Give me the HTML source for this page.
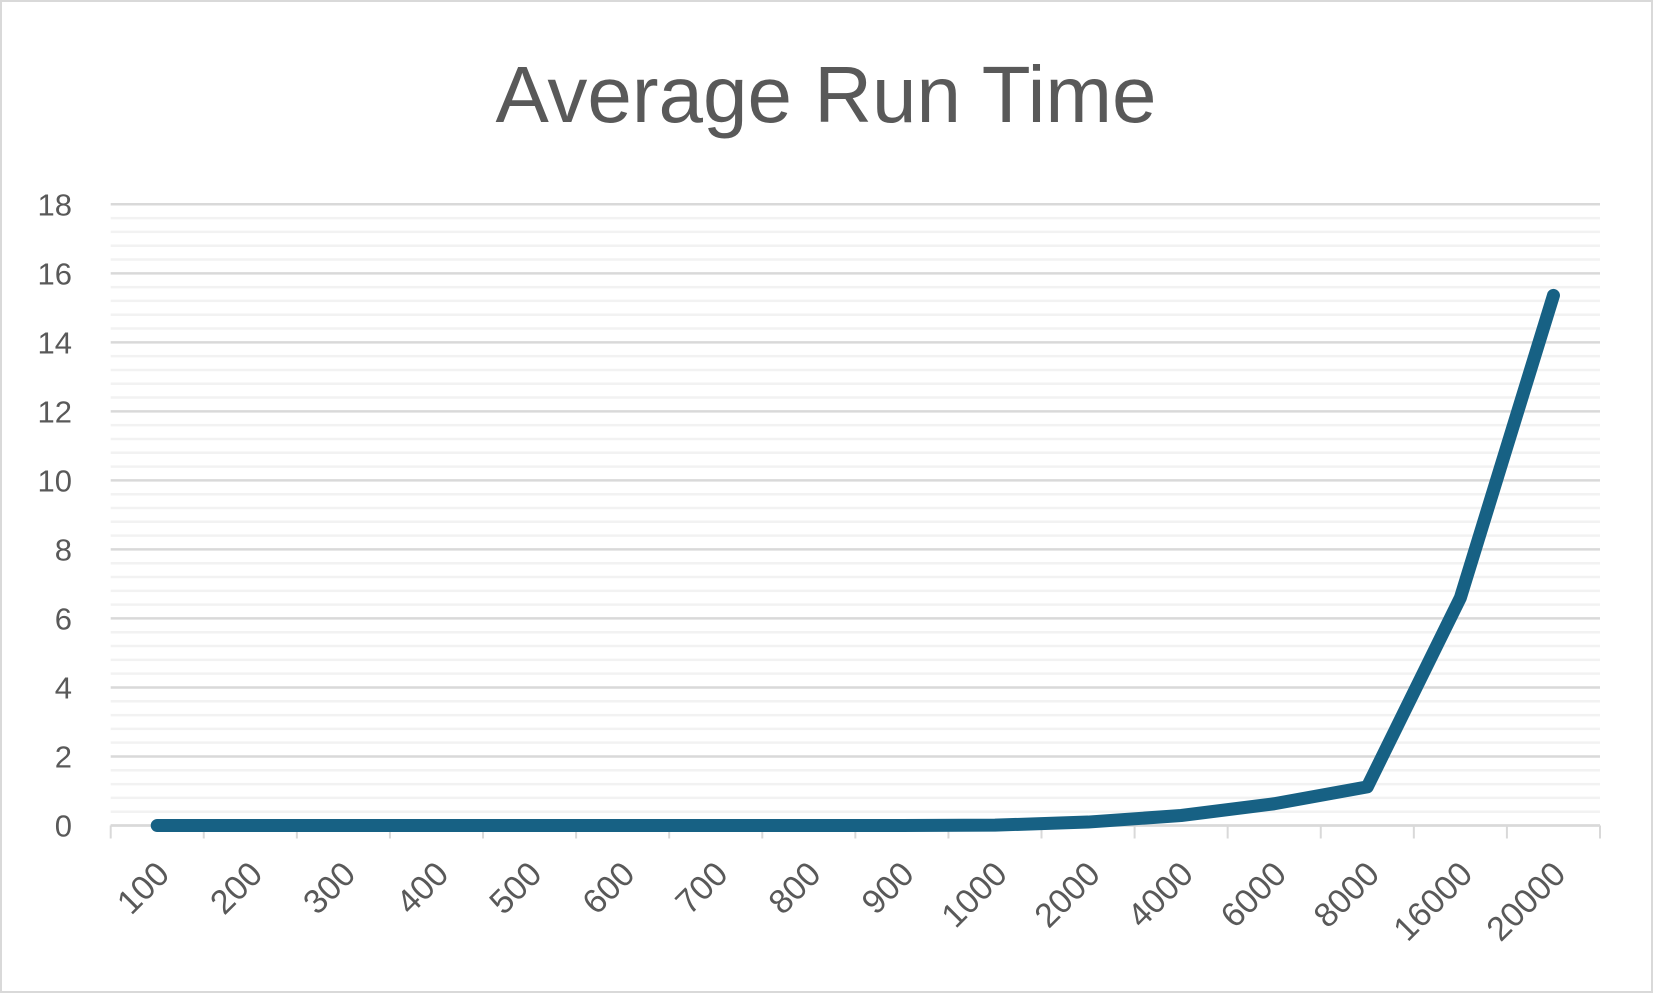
<!DOCTYPE html>
<html><head><meta charset="utf-8"><style>
html,body{margin:0;padding:0;background:#fff;}
svg{display:block;font-family:"Liberation Sans",sans-serif;}
</style></head><body>
<svg id="chart" width="1653" height="993" viewBox="0 0 1653 993" xmlns="http://www.w3.org/2000/svg">
<rect x="1" y="1" width="1651" height="991" fill="#fff" stroke="#d9d9d9" stroke-width="2"/>
<text x="826" y="122" text-anchor="middle" font-size="80" fill="#595959">Average Run Time</text>
<g id="grid"></g><g id="yticks"></g><g id="xticks"></g><g id="series"></g>
</svg>
<script>
const categories=["100","200","300","400","500","600","700","800","900","1000","2000","4000","6000","8000","16000","20000"];
const values=[0,0,0,0,0,0,0,0,0,0.01,0.1,0.29,0.63,1.12,6.6,15.36];
const yTicks=[0,2,4,6,8,10,12,14,16,18];
const NS="http://www.w3.org/2000/svg";
const L=110.7,R=1600,T=204.3,B=825.5,yMax=18;
const cw=(R-L)/categories.length;
function xS(i){return L+cw*(i+0.5);}
function yS(v){return B-(v/yMax)*(B-T);}
function mk(tag,attrs,parent){const e=document.createElementNS(NS,tag);for(const k in attrs)e.setAttribute(k,attrs[k]);parent.appendChild(e);return e;}
const grid=document.getElementById('grid');
for(let v=0;v<=yMax+1e-9;v+=0.4){
  const major=Math.abs(v/2-Math.round(v/2))<1e-6;
  const ln=mk('line',{x1:L,x2:R,y1:yS(v),y2:yS(v),stroke:major?'#d9d9d9':'#f2f2f2','stroke-width':2.5},grid);
  
  
}
const yt=document.getElementById('yticks');
yTicks.forEach(v=>{
  const t=mk('text',{x:72,y:yS(v)+11,'text-anchor':'end','font-size':31,fill:'#595959'},yt);
  t.textContent=v;
  
  
});
const xt=document.getElementById('xticks');
const ax=mk('line',{x1:L,x2:R,y1:B,y2:B,stroke:'#d9d9d9','stroke-width':2.5},xt);


for(let i=0;i<=categories.length;i++){
  const tk=mk('line',{x1:L+cw*i,x2:L+cw*i,y1:B,y2:B+13,stroke:'#d9d9d9','stroke-width':2},xt);
  
  
}
categories.forEach((c,i)=>{
  const x=xS(i)+14,y=876;
  const t=mk('text',{x:x,y:y,'text-anchor':'end','font-size':34,fill:'#595959',transform:`rotate(-45 ${x} ${y})`},xt);
  t.textContent=c;
  
  
});
const s=document.getElementById('series');
const pts=values.map((v,i)=>xS(i)+','+yS(v)).join(' ');
const pl=mk('polyline',{points:pts,fill:'none',stroke:'#176184','stroke-width':13,'stroke-linejoin':'round','stroke-linecap':'round'},s);


</script>
</body></html>
